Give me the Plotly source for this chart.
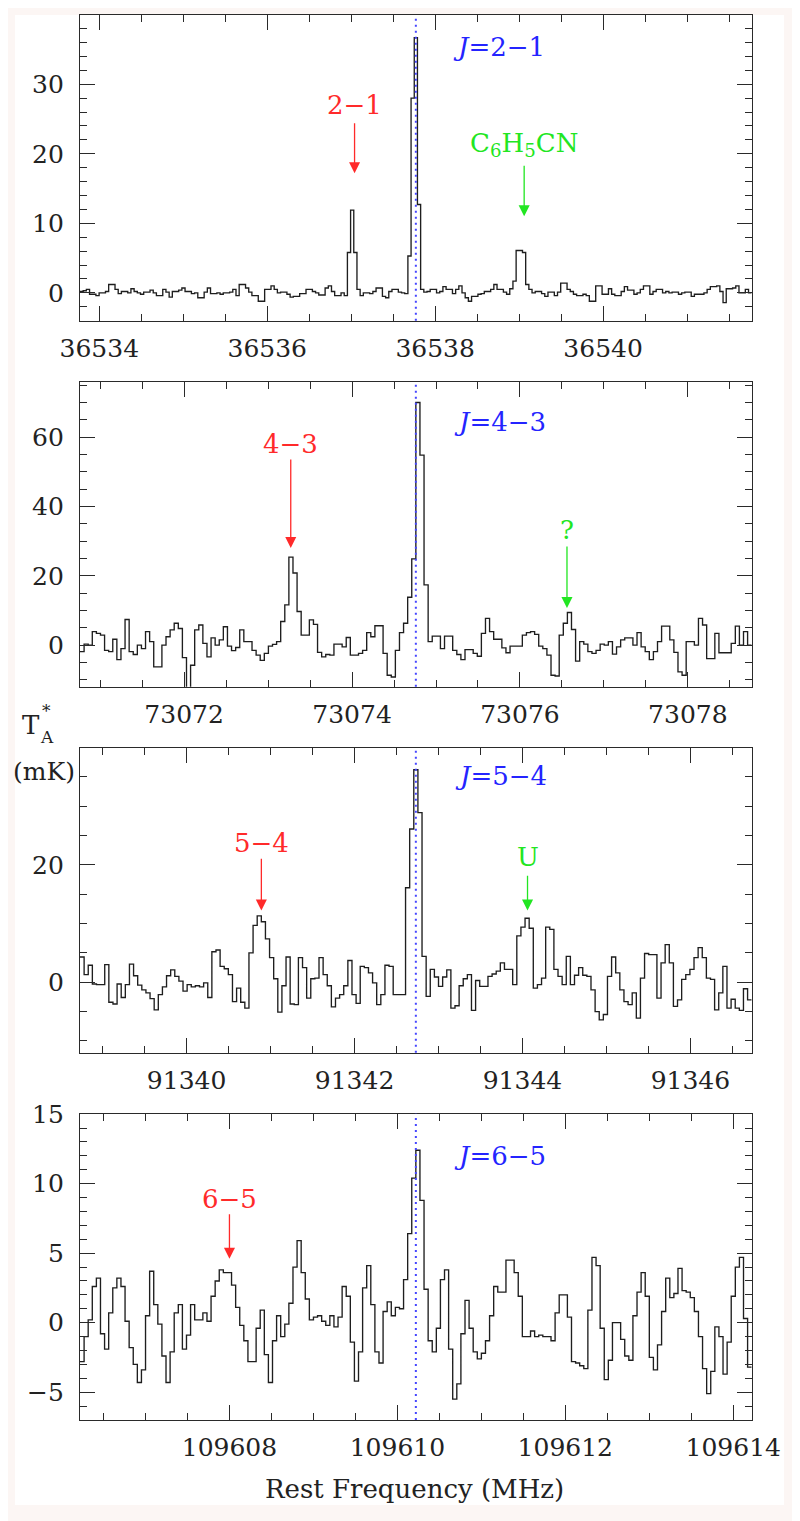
import plotly.graph_objects as go

# ---------------- data ----------------
transitions = ["2−1", "4−3", "5−4", "6−5"]
rest_freq = [36537.77, 73074.76, 91342.73, 109610.22]   # MHz, dotted line
half_span = 4.0                                          # MHz

# antenna temperature (mK), channel by channel
ta_21 = [0.2, 0.3, 0.5, -0.2, -0.2, -0.4, 0.0, 0.0, 0.2, 1.2,
         1.2, 0.5, -0.1, 0.2, 0.2, 0.0, 0.6, 0.2, 0.0, -0.2,
         0.1, 0.1, 0.4, 0.0, -0.4, -0.4, 0.5, 0.1, -0.6, 0.2,
         0.2, 0.4, 0.7, 0.2, 0.2, -0.1, 0.0, -0.7, -0.7, 0.1,
         0.7, -0.1, -0.1, 0.0, -0.2, 0.0, 0.0, 0.1, 0.5, -0.4,
         1.2, 1.2, 0.7, 0.1, -0.4, -0.4, -1.2, -1.2, 0.5, 0.5,
         1.0, 0.5, 0.0, 0.1, 0.1, -0.2, -0.6, -0.5, -0.5, -0.1,
         -0.1, 0.5, 0.5, 0.2, 0.0, -0.3, -0.3, 0.7, 1.0, 0.2,
         -0.4, -0.4, 0.0, -0.4, 5.8, 11.9, 5.8, 0.5, -0.4, 0.0,
         0.0, -0.1, 0.2, 0.7, 0.7, -0.5, -0.7, 0.2, 0.5, 0.5,
         0.1, 0.0, -0.1, 5.3, 28.0, 36.7, 12.7, 0.5, 0.1, 0.2,
         0.5, 0.5, 0.0, 0.2, 0.9, 0.5, 0.5, -0.1, 0.5, 1.0,
         0.0, -0.7, -1.2, -0.5, -0.5, -0.2, -0.1, 0.2, 0.2, 0.5,
         1.2, 0.5, 0.5, 0.1, -0.2, 0.6, 1.7, 6.1, 6.1, 5.8,
         1.2, 0.5, 0.0, 0.2, 0.2, -0.1, -0.5, 0.1, 0.1, -0.4,
         0.1, 1.4, 1.4, 0.5, 0.2, -0.2, -0.4, -0.4, -0.2, -0.4,
         -1.2, -1.2, 1.0, 1.0, -0.2, -0.2, 0.6, -0.2, -0.4, -0.4,
         0.2, 0.9, 0.4, 0.4, -0.2, 0.0, 0.5, 1.0, 1.0, -0.2,
         0.2, 0.5, 0.5, 0.0, 0.2, 0.0, 0.1, 0.1, -0.2, 0.0,
         0.1, 0.1, -0.5, -0.2, -0.2, -0.2, 0.0, 0.5, 0.9, 0.9,
         1.0, 0.2, -1.4, 0.6, 0.6, 0.7, 1.0, 0.0, 0.0, 0.5, 0.0]

ta_43 = [-1.9, 0.3, 0.0, 3.9, 3.4, 2.9, -1.5, -1.9, 1.7, -4.2,
         -1.0, 7.4, -1.9, -2.7, 0.0, -1.0, 3.9, 1.0, -6.3, -6.3,
         0.0, 2.4, 4.4, 6.3, 4.8, -3.6, -14.0, -5.8, 4.4, 5.8,
         0.5, -3.4, 2.1, 0.0, 1.5, 5.3, -0.3, -1.6, -0.7, 4.4,
         1.0, 1.0, -1.5, -2.9, -4.4, -2.4, -0.3, 0.2, 1.0, 6.8,
         11.6, 25.4, 20.8, 9.7, 2.9, 2.9, 7.3, 6.0, -2.1, -3.4,
         -2.7, -2.9, 0.3, 0.3, -0.5, 2.2, -2.9, -2.9, -2.4, -1.5,
         3.6, 2.4, 5.6, 5.6, -2.4, -8.7, -9.2, -1.5, 3.6, 6.3,
         13.8, 24.9, 70.0, 54.8, 17.4, 1.0, 2.6, 2.6, -1.0, 2.6,
         2.6, -1.5, -2.7, -4.2, -1.3, -1.3, -2.4, -3.2, 3.4, 7.7,
         3.9, 1.7, 1.7, -0.8, -2.2, -0.3, -0.3, -0.3, 2.9, 3.6,
         3.9, 3.1, -0.3, -1.0, -2.9, -8.7, -8.9, 2.9, 6.3, 9.4,
         4.5, -4.6, 1.0, 0.3, -1.9, -2.4, -1.5, 0.3, 0.0, 1.0,
         -2.6, -0.5, 1.5, 2.1, 2.1, 0.0, 3.6, -0.5, -1.9, -4.2,
         -1.9, 1.0, 5.5, 5.5, 1.5, -2.1, -7.7, -8.7, 1.0, 1.0,
         0.0, 7.7, 5.8, -3.9, -3.9, 3.4, -2.2, -2.2, -2.2, 0.5,
         5.5, 0.0, 3.9, 0.0]

ta_54 = [4.3, 1.3, 2.9, -0.3, -0.4, -0.4, 3.0, -3.4, -3.7, -0.3,
         -2.6, -0.4, 3.1, 1.1, -0.5, -1.3, -1.8, -2.8, -4.7, -2.1,
         -0.8, 1.1, 2.1, 1.0, 0.2, -1.5, -0.4, -0.8, -0.6, -0.8,
         -0.1, -2.6, 5.2, 5.5, 2.7, 2.3, 1.3, -3.3, -1.0, -3.4,
         -4.4, 5.0, 9.7, 11.3, 10.3, 7.4, 4.2, 0.6, -5.1, -0.6,
         4.3, -3.7, -3.8, 4.2, 2.5, -2.7, 0.6, 0.7, 4.2, 1.3,
         -0.6, -4.2, -2.7, -2.1, -0.6, 3.7, -2.1, -3.6, 2.7, 2.5,
         1.6, -0.1, -3.8, -2.1, 2.9, 2.7, -2.1, -2.1, -2.1, 16.1,
         26.1, 36.2,
         28.9, 4.4, -2.4, 2.2, 0.9, -0.7, 0.9, 2.1, -4.4, -4.0,
         -0.6, 0.6, 1.3, -4.8, 0.3, -0.7, -0.7, 1.0, 1.4, 1.9,
         3.3, 2.2, 2.2, -0.4, 7.9, 9.4, 10.9, 9.2, -1.0, -0.4,
         0.7, 9.4, 9.0, 2.2, 1.0, -0.4, 4.4, -0.4, 1.2, 2.5,
         1.2, 1.0, -1.3, -5.0, -6.4, -5.5, 1.0, 4.3, 1.6, -1.3,
         -3.3, -3.8, -1.8, -6.1, 0.7, 4.9, 4.7, 4.7, -2.7, 3.3,
         6.4, 3.3, -4.1, -3.0, 0.5, 1.3, 2.2, 4.2, 5.9, 4.2,
         0.7, 0.5, -4.7, -1.8, 2.7, -4.4, -2.9, -4.4, -4.8, -1.1,
         -3.0]

ta_65 = [-2.8, -1.0, 0.2, 2.6, 3.2, -0.8, -1.9, 0.7, 2.5, 3.2,
         2.6, 0.1, -1.8, -3.0, -4.3, -3.4, 0.5, 3.7, 1.3, -0.1,
         -2.4, -4.3, -2.1, 0.7, 1.3, -1.9, -0.9, 1.3, 0.2, 0.2,
         0.7, 0.1, 1.9, 3.0, 3.8, 3.6, 3.6, 2.7, 1.1, -0.2,
         -1.3, -2.8, -2.8, -0.4, 0.9, -2.3, -4.3, -1.3, 0.5, -1.0,
         -0.1, 1.4, 4.0, 5.9, 3.6, 1.7, 0.2, 0.4, 0.5, 0.1,
         -0.2, 0.5, -0.3, 0.4, 2.6, 1.9, -1.4, -4.2, -2.1, 2.5,
         4.1, 1.3, -2.1, -2.9, 0.8, 1.5, 0.5, 1.1, 1.0, 3.1,
         6.4, 10.4, 12.4, 8.8, 2.4, -1.3, -2.1, -0.4, 3.1, 3.8,
         -1.9, -5.5, -4.4, -0.8, 1.6, -0.4, -2.1, -2.6, -2.2, -1.3,
         0.5, 2.6, 2.2, 2.2, 4.5, 4.5, 3.6, 1.9, -1.0, -1.0,
         -0.6, -1.0, -0.9, -1.0, -1.0, -1.3, 0.7, 2.0, 2.0, 0.4,
         -2.8, -2.9, -3.1, -3.3, 0.9, 4.7, 4.1, -0.4, -4.1, -2.7,
         0.0, 0.0, -1.2, -2.4, -2.7, 0.5, 2.2, 3.6, 1.9, -2.5,
         -3.4, -1.6, 0.8, 3.2, 1.8, 2.1, 3.9, 2.3, 2.2, 1.8,
         0.8, -1.0, -3.3, -5.1, -3.5, -0.3, -1.0, -3.7, -1.4, 1.9,
         4.0, 4.7, 0.3, -3.2]

spectra = [ta_21, ta_43, ta_54, ta_65]

# marker labels: (panel, text, colour key, freq, text level, arrow tail, arrow head)
markers = [
    (0, "2−1", "red", 36537.04, 27.0, 24.6, 17.2),
    (0, "C<sub>6</sub>H<sub>5</sub>CN", "green", 36539.06, 21.4, 18.5, 11.0),
    (1, "4−3", "red", 73073.27, 58.0, 54.0, 28.0),
    (1, "?", "green", 73076.56, 33.2, 28.9, 10.7),
    (2, "5−4", "red", 91340.89, 23.8, 21.3, 12.2),
    (2, "U", "green", 91344.06, 21.4, 18.4, 12.2),
    (3, "6−5", "red", 109608.00, 8.9, 7.9, 4.6),
]
title_pos = [(36538.76, 35.3), (73075.76, 64.4), (91343.74, 35.1), (109611.22, 12.0)]

# ---------------- styling / layout ----------------
# the page body has an 8 px margin: the figure is drawn 8 px smaller and
# screen positions (sx, sy) are converted to figure paper coordinates
OFF = 8
W, H = 800 - OFF, 1521 - OFF


def px(sx):
    return (sx - OFF) / W


def py(sy):
    return 1 - (sy - OFF) / H


colors = {"red": "#ff2a2a", "green": "#22e622", "blue": "#2424ff"}
y_ranges = [(-4, 39.95), (-12, 76), (-12, 39.95), (-7, 15.03)]
y_dtick = [10, 20, 20, 5]
y_minor = [2, 5, 5, 1]
panel_px = [(15, 320.7), (381.7, 686.7), (747.7, 1052.7), (1113.7, 1420)]
x_px = (80, 751.7)
FONT = "DejaVu Serif"
AX = "#2a2a2a"

fig = go.Figure()
layout = dict(
    template="none",
    width=W, height=H, autosize=False,
    margin=dict(l=0, r=0, t=0, b=0, pad=0),
    paper_bgcolor="#fcf6f4", plot_bgcolor="white",
    showlegend=False,
    font=dict(family=FONT, color="#222"),
)

shapes = [dict(type="rect", xref="paper", yref="paper",
               x0=px(15), x1=px(784), y0=py(1505), y1=py(15),
               fillcolor="white", line=dict(width=0), layer="below")]
annotations = []

for i in range(4):
    sfx = "" if i == 0 else str(i + 1)
    xa, ya = "x" + sfx, "y" + sfx
    vals = spectra[i]
    n = len(vals)
    f_lo = rest_freq[i] - half_span
    df = 2 * half_span / n
    edges = [f_lo + df * k for k in range(n + 1)]
    fig.add_trace(go.Scatter(
        x=edges, y=list(vals) + [vals[-1]], mode="lines",
        line=dict(color="#1e1e1e", width=1.35, shape="hv"),
        xaxis=xa, yaxis=ya, hoverinfo="skip"))

    top, bot = panel_px[i]
    common = dict(showline=True, linecolor=AX, linewidth=1.3, mirror="ticks",
                  ticks="inside", ticklen=15, tickwidth=1.3, tickcolor=AX,
                  showgrid=False, zeroline=False, automargin=False,
                  tickfont=dict(family=FONT, size=25, color="#222"))
    layout["xaxis" + sfx] = dict(
        common, domain=[px(x_px[0]), px(x_px[1])], anchor=ya,
        range=[rest_freq[i] - half_span, rest_freq[i] + half_span],
        tick0=0, dtick=2, tickformat="d", ticklabelstandoff=5,
        minor=dict(dtick=0.5, tick0=0, ticklen=7, tickwidth=1.3,
                   tickcolor=AX, ticks="inside", showgrid=False))
    layout["yaxis" + sfx] = dict(
        common, domain=[py(bot), py(top)], anchor=xa,
        range=list(y_ranges[i]), tick0=0, dtick=y_dtick[i],
        ticklabelstandoff=10,
        minor=dict(dtick=y_minor[i], tick0=0, ticklen=7, tickwidth=1.3,
                   tickcolor=AX, ticks="inside", showgrid=False))

    # dotted rest-frequency line
    shapes.append(dict(type="line", xref=xa, yref=ya + " domain",
                       x0=rest_freq[i], x1=rest_freq[i], y0=0, y1=1,
                       line=dict(color="#4646ff", width=2, dash="2px,4px")))
    # transition title
    tx, ty = title_pos[i]
    annotations.append(dict(
        xref=xa, yref=ya, x=tx, y=ty, showarrow=False,
        text="<i>J</i>=" + transitions[i],
        font=dict(family=FONT, size=26, color=colors["blue"]),
        xanchor="center", yanchor="middle"))

for (p, txt, ck, fx, ty, tail, head) in markers:
    sfx = "" if p == 0 else str(p + 1)
    xa, ya = "x" + sfx, "y" + sfx
    annotations.append(dict(
        xref=xa, yref=ya, x=fx, y=ty, showarrow=False, text=txt,
        font=dict(family=FONT, size=26, color=colors[ck]),
        xanchor="center", yanchor="middle"))
    annotations.append(dict(
        xref=xa, yref=ya, x=fx, y=head, axref=xa, ayref=ya, ax=fx, ay=tail,
        text="", showarrow=True, arrowhead=2, arrowsize=1.7, arrowwidth=1.3,
        arrowcolor=colors[ck], standoff=0, startstandoff=0))

# axis titles
annotations += [
    dict(xref="paper", yref="paper", x=px(31), y=py(725), text="T",
         showarrow=False, font=dict(family=FONT, size=26, color="#222"),
         xanchor="center", yanchor="middle"),
    dict(xref="paper", yref="paper", x=px(46), y=py(711), text="*",
         showarrow=False, font=dict(family=FONT, size=17, color="#222"),
         xanchor="center", yanchor="middle"),
    dict(xref="paper", yref="paper", x=px(47), y=py(737), text="A",
         showarrow=False, font=dict(family=FONT, size=17, color="#222"),
         xanchor="center", yanchor="middle"),
    dict(xref="paper", yref="paper", x=px(44), y=py(771), text="(mK)",
         showarrow=False, font=dict(family=FONT, size=25, color="#222"),
         xanchor="center", yanchor="middle"),
    dict(xref="paper", yref="paper", x=px(415), y=py(1489),
         text="Rest Frequency (MHz)", showarrow=False,
         font=dict(family=FONT, size=26, color="#222"),
         xanchor="center", yanchor="middle"),
]

layout["shapes"] = shapes
layout["annotations"] = annotations
fig.update_layout(**layout)
fig.write_html("out.html")
